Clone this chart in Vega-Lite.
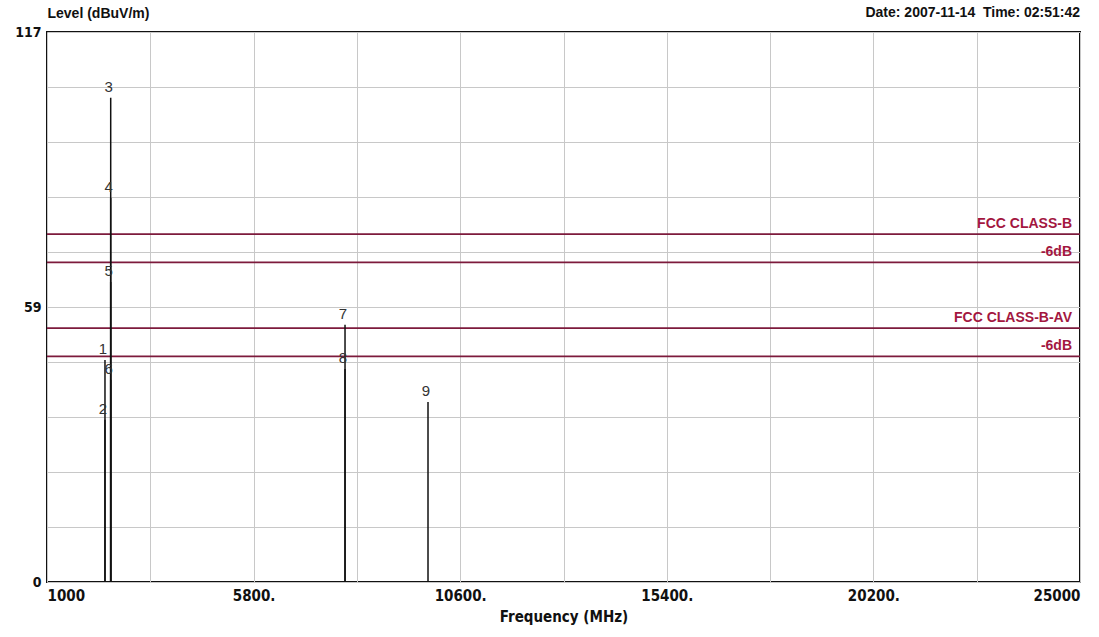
{
  "$schema": "https://vega.github.io/schema/vega-lite/v6.json",
  "autosize": {"type": "none"},
  "width": 1033,
  "height": 550,
  "padding": {"left": 47, "top": 32, "right": 19, "bottom": 55},
  "background": "white",
  "config": {
    "view": {"stroke": "#111111", "strokeWidth": 2},
    "font": "Liberation Sans"
  },
  "datasets": {
    "markers": [
      {"marker": "1", "freq": 2347, "level": 47.2},
      {"marker": "2", "freq": 2347, "level": 34.5},
      {"marker": "3", "freq": 2480, "level": 103.0},
      {"marker": "4", "freq": 2480, "level": 81.7},
      {"marker": "5", "freq": 2480, "level": 63.8},
      {"marker": "6", "freq": 2480, "level": 43.0},
      {"marker": "7", "freq": 7924, "level": 54.7},
      {"marker": "8", "freq": 7924, "level": 45.3},
      {"marker": "9", "freq": 9852, "level": 38.3}
    ],
    "limits": [
      {"label": "FCC CLASS-B", "level": 74},
      {"label": "-6dB", "level": 68},
      {"label": "FCC CLASS-B-AV", "level": 54},
      {"label": "-6dB", "level": 48}
    ],
    "stamp": [
      {"text": "Date: 2007-11-14\u00a0\u00a0Time: 02:51:42", "freq": 25000, "level": 117}
    ]
  },
  "layer": [
    {
      "data": {"name": "limits"},
      "mark": {"type": "rule", "color": "#7d1a3c", "strokeWidth": 1.6},
      "encoding": {
        "y": {
          "field": "level",
          "type": "quantitative",
          "scale": {"domain": [0, 117], "nice": false, "zero": false},
          "axis": {
            "values": [0, 11.7, 23.4, 35.1, 46.8, 58.5, 70.2, 81.9, 93.6, 105.3, 117],
            "labelExpr": "datum.value == 0 ? '0' : (datum.value == 117 ? '117' : (datum.value == 58.5 ? '59' : ''))",
            "grid": true,
            "gridColor": "#c8c8c8",
            "gridWidth": 1,
            "domain": false,
            "ticks": false,
            "labelFontSize": 14,
            "labelFontWeight": "bold",
            "labelFont": "'DejaVu Sans Condensed', 'Liberation Sans', sans-serif",
            "labelColor": "#111111",
            "labelPadding": 6,
            "labelFlush": false,
            "title": "Level (dBuV/m)",
            "titleAngle": 0,
            "titleAlign": "left",
            "titleBaseline": "middle",
            "titleX": 0,
            "titleY": -19,
            "titleFontSize": 14,
            "titleFontWeight": "bold",
            "titleFont": "Liberation Sans",
            "titleColor": "#111111"
          }
        }
      }
    },
    {
      "data": {"name": "limits"},
      "mark": {"type": "text", "align": "right", "baseline": "bottom", "dx": -8, "dy": -3, "fontSize": 14, "fontWeight": "bold", "font": "Liberation Sans", "color": "#a3173f"},
      "encoding": {
        "x": {"datum": 25000, "type": "quantitative"},
        "y": {"field": "level", "type": "quantitative"},
        "text": {"field": "label"}
      }
    },
    {
      "data": {"name": "stamp"},
      "mark": {"type": "text", "align": "right", "baseline": "middle", "dy": -19, "fontSize": 14, "fontWeight": "bold", "font": "Liberation Sans", "color": "#111111"},
      "encoding": {
        "x": {"field": "freq", "type": "quantitative"},
        "y": {"field": "level", "type": "quantitative"},
        "text": {"field": "text"}
      }
    },
    {
      "data": {"name": "markers"},
      "mark": {"type": "rule", "color": "#111111", "strokeWidth": 1.5},
      "encoding": {
        "x": {
          "field": "freq",
          "type": "quantitative",
          "scale": {"domain": [1000, 25000], "nice": false, "zero": false},
          "axis": {
            "values": [1000, 3400, 5800, 8200, 10600, 13000, 15400, 17800, 20200, 22600, 25000],
            "labelExpr": "datum.value == 1000 ? '1000' : (datum.value == 25000 ? '25000' : ((datum.value - 1000) % 4800 == 0 ? datum.value + '.' : ''))",
            "labelFlush": true,
            "grid": true,
            "gridColor": "#c8c8c8",
            "gridWidth": 1,
            "domain": false,
            "ticks": false,
            "labelFontSize": 15,
            "labelFontWeight": "bold",
            "labelFont": "'DejaVu Sans Condensed', 'Liberation Sans', sans-serif",
            "labelColor": "#111111",
            "labelPadding": 6,
            "title": "Frequency (MHz)",
            "titleFontSize": 15,
            "titleFontWeight": "bold",
            "titleFont": "'DejaVu Sans Condensed', 'Liberation Sans', sans-serif",
            "titleColor": "#111111",
            "titlePadding": 6
          }
        },
        "y": {"field": "level", "type": "quantitative"},
        "y2": {"datum": 0}
      }
    },
    {
      "data": {"name": "markers"},
      "mark": {"type": "text", "align": "center", "baseline": "middle", "dx": -2, "dy": -11, "fontSize": 15, "font": "Liberation Sans", "color": "#333333"},
      "encoding": {
        "x": {"field": "freq", "type": "quantitative"},
        "y": {"field": "level", "type": "quantitative"},
        "text": {"field": "marker"}
      }
    }
  ]
}
